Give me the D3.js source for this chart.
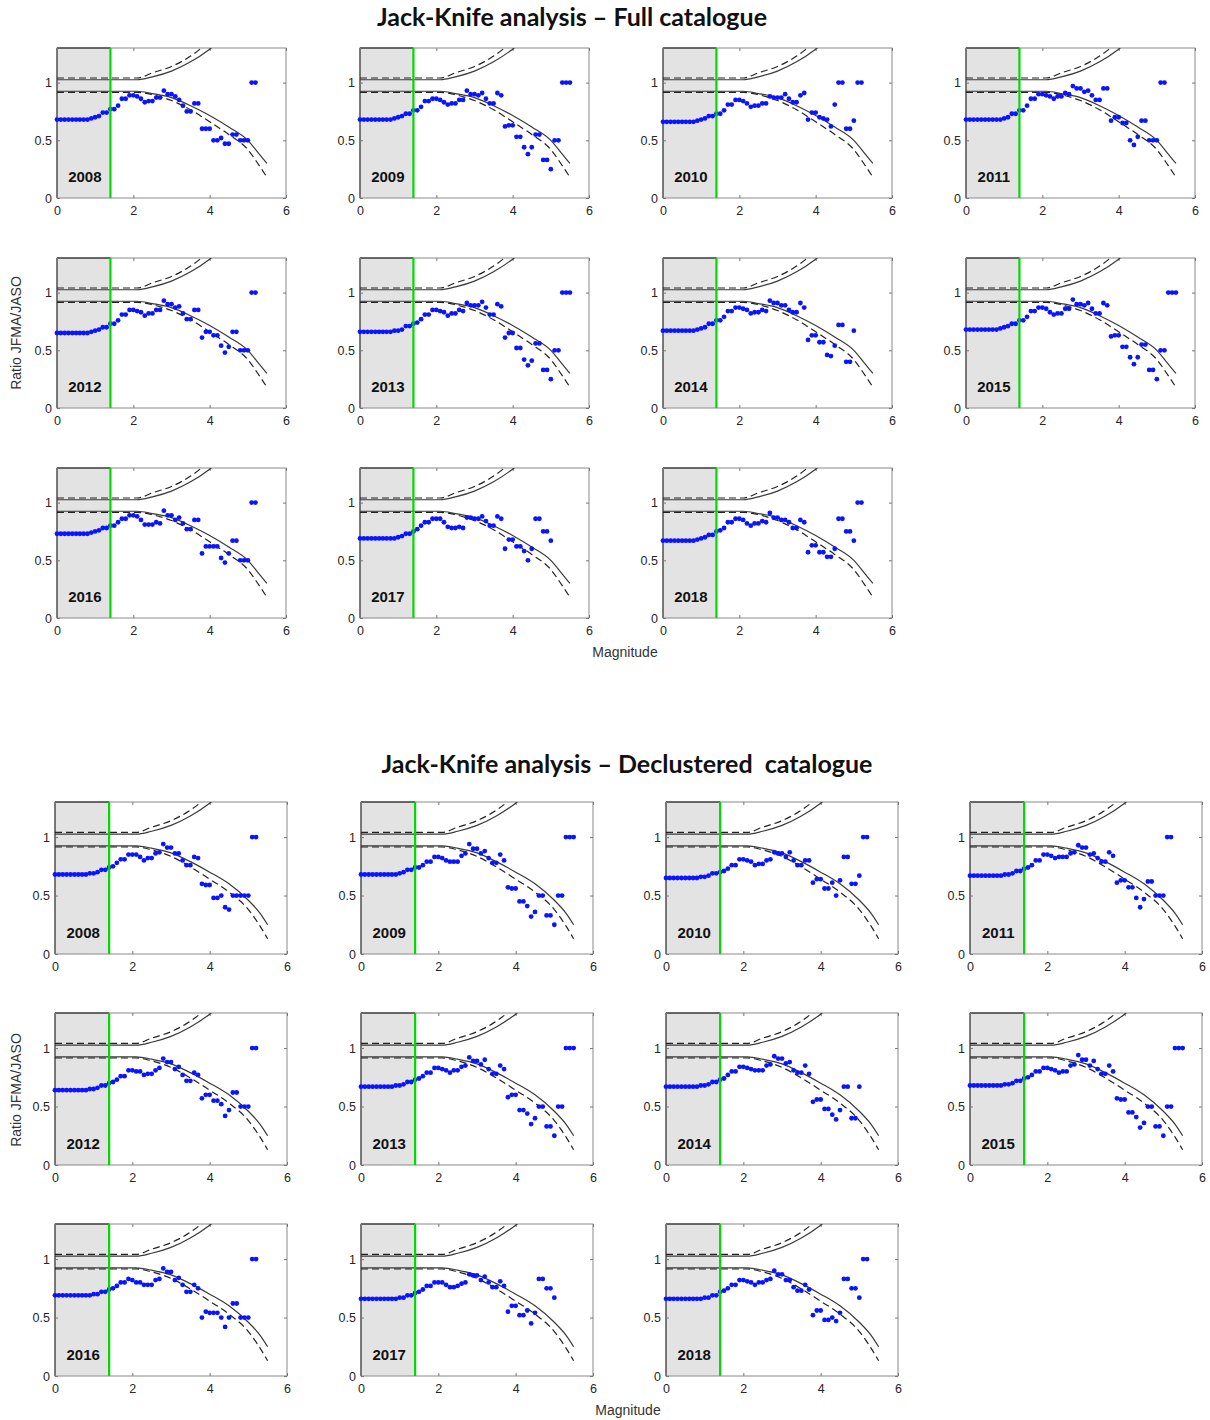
<!DOCTYPE html>
<html>
<head>
<meta charset="utf-8">
<script src="https://cdn.jsdelivr.net/npm/d3@7"></script>
<style>
  body { margin: 0; background: #ffffff; }
  svg { display: block; }
</style>
</head>
<body>
<svg id="fig" width="1210" height="1420"></svg>
<script>
// Magnitude bins (0.1 steps)
const magnitudes = [0.0,0.1,0.2,0.3,0.4,0.5,0.6,0.7,0.8,0.9,1.0,1.1,1.2,1.3,1.4,1.5,1.6,1.7,1.8,1.9,
  2.0,2.1,2.2,2.3,2.4,2.5,2.6,2.7,2.8,2.9,3.0,3.1,3.2,3.3,3.4,3.5,3.6,3.7,3.8,3.9,
  4.0,4.1,4.2,4.3,4.4,4.5,4.6,4.7,4.8,4.9,5.0,5.1,5.2,5.3,5.4,5.5];
const years = [2008,2009,2010,2011,2012,2013,2014,2015,2016,2017,2018];
const xTicks = [0,2,4,6];
const yTicks = [0,0.5,1];
const yTickLabels = ["0","0.5","1"];
const completenessMag = 1.4;
const shadedRange = [0, 1.4];

// Ratio JFMA/JASO per magnitude bin, full catalogue
const full2008 = [0.68,0.68,0.68,0.68,0.68,0.68,0.68,0.68,0.68, 0.69,0.70,0.71,0.74,0.74,
  0.77,0.77,0.80,0.86,0.86,0.89,0.89,0.88,0.86,0.83,0.84,0.84,0.87,0.87,
  0.93,0.90,0.90,0.88,0.85,0.80,0.75,0.75,0.82,0.82,
  0.60,0.60,0.60,0.50,0.50,0.52,0.47,0.47,0.55,0.55,
  0.50,0.50,0.50,1.0,1.0];
const full2009 = [0.68,0.68,0.68,0.68,0.68,0.68,0.68,0.68,0.68, 0.69,0.70,0.71,0.73,0.73,
  0.76,0.76,0.79,0.84,0.84,0.86,0.86,0.85,0.83,0.81,0.82,0.82,0.85,0.85,
  0.93,0.90,0.90,0.89,0.91,0.86,0.82,0.82,0.91,0.89,
  0.62,0.63,0.63,0.53,0.53,0.44,0.38,0.44,0.55,0.55,
  0.33,0.33,0.25,0.50,0.50,1.0,1.0,1.0];
const full2010 = [0.66,0.66,0.66,0.66,0.66,0.66,0.66,0.66,0.66, 0.67,0.68,0.69,0.71,0.71,
  0.73,0.73,0.76,0.81,0.81,0.85,0.85,0.84,0.82,0.79,0.80,0.80,0.82,0.82,
  0.88,0.87,0.87,0.87,0.90,0.86,0.83,0.83,0.89,0.91,
  0.68,0.74,0.74,0.70,0.69,0.68,0.62,0.81,1.0,1.0,
  0.60,0.60,0.67,1.0,1.0];
const full2011 = [0.68,0.68,0.68,0.68,0.68,0.68,0.68,0.68,0.68, 0.68,0.69,0.70,0.73,0.73,
  0.76,0.76,0.80,0.86,0.86,0.90,0.90,0.89,0.88,0.86,0.88,0.88,0.91,0.90,
  0.97,0.95,0.95,0.92,0.93,0.89,0.85,0.85,0.95,0.95,
  0.67,0.70,0.70,0.65,0.65,0.50,0.46,0.53,0.67,0.67,
  0.50,0.50,0.50,1.0,1.0];
const full2012 = [0.65,0.65,0.65,0.65,0.65,0.65,0.65,0.65,0.65, 0.66,0.67,0.68,0.70,0.70,
  0.73,0.73,0.76,0.81,0.81,0.85,0.85,0.84,0.83,0.80,0.82,0.82,0.85,0.85,
  0.93,0.90,0.90,0.87,0.88,0.82,0.77,0.77,0.85,0.85,
  0.61,0.66,0.66,0.63,0.63,0.54,0.48,0.53,0.66,0.66,
  0.50,0.50,0.50,1.0,1.0];
const full2013 = [0.66,0.66,0.66,0.66,0.66,0.66,0.66,0.66,0.66, 0.67,0.67,0.68,0.71,0.71,
  0.73,0.74,0.77,0.81,0.81,0.85,0.85,0.84,0.83,0.80,0.82,0.82,0.85,0.84,
  0.91,0.89,0.89,0.89,0.92,0.87,0.81,0.81,0.90,0.88,
  0.61,0.65,0.65,0.52,0.52,0.42,0.37,0.41,0.56,0.56,
  0.33,0.33,0.25,0.50,0.50,1.0,1.0,1.0];
const full2014 = [0.67,0.67,0.67,0.67,0.67,0.67,0.67,0.67,0.67, 0.68,0.69,0.70,0.73,0.73,
  0.76,0.76,0.79,0.84,0.84,0.87,0.87,0.86,0.85,0.82,0.83,0.83,0.85,0.84,
  0.93,0.91,0.91,0.89,0.89,0.85,0.83,0.83,0.91,0.87,
  0.59,0.63,0.63,0.57,0.57,0.46,0.45,0.54,0.72,0.72,
  0.40,0.40,0.67];
const full2015 = [0.68,0.68,0.68,0.68,0.68,0.68,0.68,0.68,0.68, 0.69,0.70,0.71,0.73,0.73,
  0.76,0.76,0.79,0.84,0.84,0.87,0.87,0.86,0.83,0.81,0.82,0.82,0.86,0.86,
  0.94,0.90,0.90,0.89,0.91,0.86,0.82,0.82,0.91,0.89,
  0.62,0.63,0.63,0.53,0.53,0.44,0.38,0.44,0.55,0.55,
  0.33,0.33,0.25,0.50,0.50,1.0,1.0,1.0];
const full2016 = [0.73,0.73,0.73,0.73,0.73,0.73,0.73,0.73,0.73, 0.74,0.75,0.76,0.78,0.78,
  0.80,0.80,0.83,0.86,0.86,0.89,0.89,0.88,0.85,0.81,0.81,0.81,0.83,0.82,
  0.93,0.89,0.89,0.85,0.87,0.82,0.77,0.77,0.85,0.85,
  0.56,0.62,0.62,0.62,0.62,0.52,0.48,0.56,0.67,0.67,
  0.50,0.50,0.50,1.0,1.0];
const full2017 = [0.69,0.69,0.69,0.69,0.69,0.69,0.69,0.69,0.69, 0.69,0.70,0.71,0.73,0.73,
  0.75,0.77,0.80,0.83,0.83,0.86,0.86,0.86,0.83,0.79,0.78,0.78,0.79,0.78,
  0.87,0.87,0.86,0.86,0.88,0.84,0.80,0.80,0.88,0.86,
  0.60,0.68,0.68,0.62,0.62,0.58,0.50,0.60,0.86,0.86,
  0.75,0.75,0.67];
const full2018 = [0.67,0.67,0.67,0.67,0.67,0.67,0.67,0.67,0.67, 0.68,0.69,0.70,0.72,0.72,
  0.75,0.76,0.78,0.83,0.83,0.86,0.86,0.85,0.82,0.80,0.82,0.82,0.84,0.83,
  0.91,0.87,0.87,0.85,0.85,0.83,0.78,0.78,0.85,0.83,
  0.57,0.63,0.63,0.57,0.57,0.53,0.53,0.60,0.86,0.86,
  0.75,0.75,0.67,1.0,1.0];

// Ratio JFMA/JASO per magnitude bin, declustered catalogue
const decl2008 = [0.68,0.68,0.68,0.68,0.68,0.68,0.68,0.68,0.68, 0.69,0.69,0.70,0.72,0.72,
  0.74,0.75,0.78,0.81,0.81,0.85,0.85,0.85,0.83,0.80,0.82,0.82,0.86,0.87,
  0.94,0.91,0.91,0.86,0.86,0.80,0.76,0.76,0.83,0.82,
  0.60,0.59,0.59,0.48,0.48,0.50,0.40,0.38,0.50,0.50,
  0.50,0.50,0.50,1.0,1.0];
const decl2009 = [0.68,0.68,0.68,0.68,0.68,0.68,0.68,0.68,0.68, 0.68,0.69,0.70,0.72,0.72,
  0.74,0.74,0.76,0.79,0.79,0.83,0.83,0.82,0.80,0.79,0.79,0.79,0.84,0.86,
  0.94,0.90,0.90,0.86,0.88,0.82,0.78,0.78,0.85,0.80,
  0.57,0.56,0.56,0.45,0.45,0.41,0.32,0.36,0.50,0.50,
  0.33,0.33,0.25,0.50,0.50,1.0,1.0,1.0];
const decl2010 = [0.65,0.65,0.65,0.65,0.65,0.65,0.65,0.65,0.65, 0.66,0.66,0.67,0.69,0.69,
  0.70,0.71,0.73,0.76,0.76,0.81,0.81,0.80,0.79,0.76,0.77,0.77,0.80,0.81,
  0.87,0.86,0.86,0.83,0.87,0.80,0.76,0.76,0.80,0.80,
  0.61,0.64,0.64,0.56,0.56,0.61,0.50,0.63,0.83,0.83,
  0.60,0.60,0.67,1.0,1.0];
const decl2011 = [0.67,0.67,0.67,0.67,0.67,0.67,0.67,0.67,0.67, 0.68,0.68,0.69,0.71,0.71,
  0.73,0.74,0.76,0.80,0.80,0.85,0.85,0.84,0.82,0.83,0.83,0.83,0.86,0.87,
  0.93,0.91,0.91,0.85,0.86,0.82,0.79,0.79,0.87,0.84,
  0.61,0.63,0.63,0.57,0.57,0.48,0.40,0.47,0.62,0.62,
  0.50,0.50,0.50,1.0,1.0];
const decl2012 = [0.64,0.64,0.64,0.64,0.64,0.64,0.64,0.64,0.64, 0.65,0.65,0.66,0.68,0.68,
  0.70,0.71,0.73,0.76,0.76,0.81,0.81,0.80,0.80,0.77,0.78,0.78,0.81,0.83,
  0.91,0.88,0.88,0.82,0.84,0.77,0.72,0.72,0.79,0.77,
  0.57,0.60,0.60,0.55,0.55,0.52,0.42,0.47,0.62,0.62,
  0.50,0.50,0.50,1.0,1.0];
const decl2013 = [0.67,0.67,0.67,0.67,0.67,0.67,0.67,0.67,0.67, 0.68,0.68,0.69,0.71,0.71,
  0.73,0.74,0.76,0.79,0.79,0.83,0.83,0.82,0.81,0.79,0.81,0.81,0.84,0.85,
  0.92,0.89,0.89,0.86,0.90,0.82,0.78,0.78,0.85,0.82,
  0.58,0.60,0.60,0.47,0.47,0.44,0.35,0.40,0.50,0.50,
  0.33,0.33,0.25,0.50,0.50,1.0,1.0,1.0];
const decl2014 = [0.67,0.67,0.67,0.67,0.67,0.67,0.67,0.67,0.67, 0.68,0.68,0.69,0.71,0.71,
  0.73,0.74,0.77,0.80,0.80,0.84,0.84,0.83,0.82,0.81,0.81,0.81,0.85,0.86,
  0.93,0.91,0.91,0.87,0.88,0.81,0.79,0.79,0.85,0.78,
  0.54,0.56,0.56,0.48,0.48,0.43,0.39,0.47,0.67,0.67,
  0.40,0.40,0.67];
const decl2015 = [0.68,0.68,0.68,0.68,0.68,0.68,0.68,0.68,0.68, 0.69,0.69,0.70,0.72,0.72,
  0.74,0.75,0.77,0.80,0.80,0.83,0.83,0.82,0.81,0.79,0.80,0.80,0.85,0.86,
  0.94,0.90,0.90,0.85,0.89,0.82,0.78,0.78,0.85,0.80,
  0.57,0.56,0.56,0.45,0.45,0.41,0.32,0.36,0.50,0.50,
  0.33,0.33,0.25,0.50,0.50,1.0,1.0,1.0];
const decl2016 = [0.69,0.69,0.69,0.69,0.69,0.69,0.69,0.69,0.69, 0.69,0.70,0.70,0.72,0.72,
  0.74,0.75,0.77,0.80,0.80,0.83,0.82,0.80,0.80,0.78,0.78,0.78,0.82,0.83,
  0.92,0.89,0.89,0.82,0.84,0.78,0.72,0.72,0.78,0.75,
  0.50,0.55,0.54,0.54,0.54,0.50,0.42,0.50,0.62,0.62,
  0.50,0.50,0.50,1.0,1.0];
const decl2017 = [0.66,0.66,0.66,0.66,0.66,0.66,0.66,0.66,0.66, 0.66,0.67,0.67,0.69,0.69,
  0.71,0.72,0.74,0.77,0.77,0.80,0.80,0.80,0.78,0.76,0.76,0.77,0.79,0.80,
  0.87,0.86,0.86,0.82,0.85,0.80,0.76,0.76,0.81,0.77,
  0.55,0.60,0.60,0.52,0.52,0.56,0.45,0.54,0.83,0.83,
  0.75,0.75,0.67];
const decl2018 = [0.66,0.66,0.66,0.66,0.66,0.66,0.66,0.66,0.66, 0.66,0.67,0.67,0.69,0.69,
  0.72,0.73,0.75,0.78,0.78,0.82,0.82,0.81,0.80,0.78,0.80,0.80,0.82,0.83,
  0.90,0.87,0.87,0.82,0.82,0.76,0.73,0.73,0.78,0.74,
  0.52,0.56,0.56,0.48,0.48,0.50,0.47,0.54,0.83,0.83,
  0.75,0.75,0.67,1.0,1.0];

const fullSeries = [full2008,full2009,full2010,full2011,full2012,full2013,full2014,full2015,full2016,full2017,full2018];
const declSeries = [decl2008,decl2009,decl2010,decl2011,decl2012,decl2013,decl2014,decl2015,decl2016,decl2017,decl2018];

// Confidence envelopes (solid and dashed), sampled along magnitude
const upperMag = [0, 1, 2, 2.1, 2.5, 3, 3.5, 4, 4.3];
const upperSolid = [1.025, 1.025, 1.025, 1.025, 1.05, 1.10, 1.18, 1.29, 1.37];
const upperDashed = [1.04, 1.04, 1.04, 1.04, 1.085, 1.14, 1.23, 1.36, 1.45];
const lowerMag = [0, 1, 2, 2.1, 2.5, 3, 3.5, 4, 4.5, 5, 5.3, 5.5];
const fullLowerSolid  = [0.925, 0.925, 0.925, 0.925, 0.905, 0.87, 0.80, 0.715, 0.615, 0.50, 0.38, 0.30];
const fullLowerDashed = [0.915, 0.915, 0.915, 0.915, 0.895, 0.845, 0.765, 0.66, 0.55, 0.42, 0.28, 0.18];
const declLowerSolid  = [0.925, 0.925, 0.925, 0.925, 0.905, 0.865, 0.79, 0.70, 0.60, 0.46, 0.35, 0.25];
const declLowerDashed = [0.915, 0.915, 0.915, 0.915, 0.89, 0.835, 0.745, 0.64, 0.53, 0.38, 0.24, 0.13];

const svg = d3.select("#fig");
const FONT = "'Liberation Sans', Arial, sans-serif";

const groups = [
  {
    title: "Jack-Knife analysis \u2013 Full catalogue", titleX: 572, titleY: 26,
    series: fullSeries, lowerSolid: fullLowerSolid, lowerDashed: fullLowerDashed,
    colX: [57, 360, 663, 966], w: 229, rowY: [48, 258, 468], h: 150,
    ylabelY: 333, magX: 625, magY: 657
  },
  {
    title: "Jack-Knife analysis \u2013 Declustered  catalogue", titleX: 627, titleY: 773,
    series: declSeries, lowerSolid: declLowerSolid, lowerDashed: declLowerDashed,
    colX: [55, 361, 666, 970], w: 232, rowY: [802, 1013, 1224], h: 152,
    ylabelY: 1090, magX: 628, magY: 1415
  }
];

let clipId = 0;

groups.forEach(g => {
  svg.append("text")
    .attr("x", g.titleX).attr("y", g.titleY)
    .attr("text-anchor", "middle")
    .attr("font-family", "Lato, 'Open Sans', sans-serif")
    .attr("font-weight", "bold")
    .attr("font-size", 25)
    .attr("fill", "#111")
    .style("white-space", "pre")
    .text(g.title);

  svg.append("text")
    .attr("transform", `translate(21,${g.ylabelY}) rotate(-90)`)
    .attr("text-anchor", "middle")
    .attr("font-family", FONT)
    .attr("font-size", 14)
    .attr("fill", "#333")
    .text("Ratio JFMA/JASO");

  svg.append("text")
    .attr("x", g.magX).attr("y", g.magY)
    .attr("text-anchor", "middle")
    .attr("font-family", FONT)
    .attr("font-size", 14)
    .attr("fill", "#333")
    .text("Magnitude");

  g.series.forEach((vals, i) => {
    const row = Math.floor(i / 4), col = i % 4;
    const x0 = g.colX[col], y0 = g.rowY[row];
    const x = d3.scaleLinear().domain([0, 6]).range([x0, x0 + g.w]);
    const y = d3.scaleLinear().domain([0, 1.3]).range([y0 + g.h, y0]);

    const p = svg.append("g");
    const cid = "clip" + (clipId++);
    p.append("clipPath").attr("id", cid)
      .append("rect").attr("x", x0).attr("y", y0).attr("width", g.w).attr("height", g.h);

    // shaded incomplete-magnitude band
    p.append("rect")
      .attr("x", x(shadedRange[0])).attr("y", y(1.3))
      .attr("width", x(shadedRange[1]) - x(shadedRange[0]))
      .attr("height", y(0) - y(1.3))
      .attr("fill", "#e3e3e3");

    // frame
    p.append("rect")
      .attr("x", x0).attr("y", y0).attr("width", g.w).attr("height", g.h)
      .attr("fill", "none").attr("stroke", "#8a8a8a").attr("stroke-width", 1);
    p.append("line")
      .attr("x1", x(0)).attr("x2", x(shadedRange[1]))
      .attr("y1", y(1.3)).attr("y2", y(1.3))
      .attr("stroke", "#111").attr("stroke-width", 1.2);
    p.append("line")
      .attr("x1", x(0)).attr("x2", x(0))
      .attr("y1", y(1.3)).attr("y2", y(0))
      .attr("stroke", "#333").attr("stroke-width", 1);

    // axes with inward ticks
    const ax = p.append("g").attr("transform", `translate(0,${y(0)})`)
      .call(d3.axisBottom(x).tickValues(xTicks).tickFormat(d3.format("d")).tickSizeInner(-3).tickSizeOuter(0).tickPadding(8));
    const ay = p.append("g").attr("transform", `translate(${x(0)},0)`)
      .call(d3.axisLeft(y).tickValues(yTicks).tickFormat((d, k) => yTickLabels[k]).tickSizeInner(-3).tickSizeOuter(0).tickPadding(5));
    const ar = p.append("g").attr("transform", `translate(${x(6)},0)`)
      .call(d3.axisRight(y).tickValues(yTicks).tickFormat("").tickSizeInner(-3).tickSizeOuter(0));
    const at = p.append("g").attr("transform", `translate(0,${y(1.3)})`)
      .call(d3.axisTop(x).tickValues(xTicks).tickFormat("").tickSizeInner(-3).tickSizeOuter(0));
    [ax, ay, ar, at].forEach(a => {
      a.select(".domain").remove();
      a.selectAll("line").attr("stroke", "#777");
      a.selectAll("text").attr("font-family", FONT).attr("font-size", 12.5).attr("fill", "#262626");
    });

    // envelopes
    const line = d3.line().x(d => x(d[0])).y(d => y(d[1])).curve(d3.curveMonotoneX);
    const env = p.append("g").attr("clip-path", `url(#${cid})`);
    const curves = [
      [upperMag, upperSolid, null],
      [upperMag, upperDashed, "7,4"],
      [lowerMag, g.lowerSolid, null],
      [lowerMag, g.lowerDashed, "7,4"]
    ];
    curves.forEach(([mx, my, dash]) => {
      env.append("path")
        .attr("d", line(mx.map((m, k) => [m, my[k]])))
        .attr("fill", "none")
        .attr("stroke", dash ? "#222" : "#3a3a3a")
        .attr("stroke-width", 1.2)
        .attr("stroke-dasharray", dash);
    });

    // observed ratios
    const pts = vals.map((v, k) => [magnitudes[k], v]).filter(d => d[1] != null);
    p.append("g").selectAll("circle").data(pts).join("circle")
      .attr("cx", d => x(d[0])).attr("cy", d => y(d[1]))
      .attr("r", 2.4).attr("fill", "#0a14ff");

    // completeness magnitude
    p.append("line")
      .attr("x1", x(completenessMag)).attr("x2", x(completenessMag))
      .attr("y1", y(1.3)).attr("y2", y(0))
      .attr("stroke", "#00d800").attr("stroke-width", 2.2);

    // year label
    p.append("text")
      .attr("x", x(0.73)).attr("y", y(0.14))
      .attr("text-anchor", "middle")
      .attr("font-family", FONT)
      .attr("font-weight", "bold")
      .attr("font-size", 15)
      .attr("fill", "#111")
      .text(years[i]);
  });
});
</script>
</body>
</html>
